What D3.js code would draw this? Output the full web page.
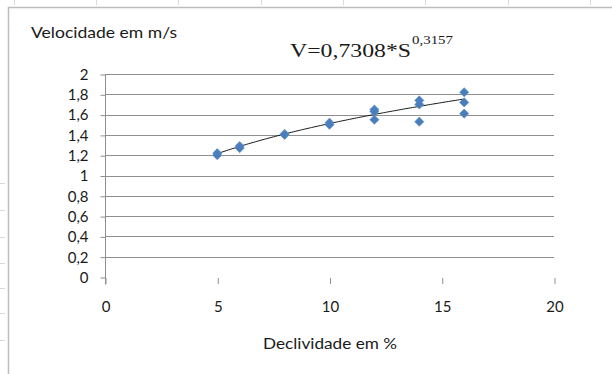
<!DOCTYPE html>
<html>
<head>
<meta charset="utf-8">
<script src="https://cdn.jsdelivr.net/npm/d3@7"></script>
<style>
  html, body { margin: 0; padding: 0; background: #fff; }
  svg { display: block; }
  text { font-family: Lato, "Noto Sans", sans-serif; fill: #1a1a1a; }
</style>
</head>
<body>
<svg id="chart" width="612" height="374"></svg>
<script>
// Measured slope (%) and velocity (m/s)
const declividade = [5, 5, 6, 6, 8, 8, 10, 10, 12, 12, 12, 14, 14, 14, 16, 16, 16];
const velocidade  = [1.22, 1.20, 1.29, 1.27, 1.41, 1.40, 1.52, 1.50, 1.65, 1.63, 1.55, 1.74, 1.70, 1.53, 1.82, 1.72, 1.61];

// Power trend line V = a * S^b
const trendCoef = [0.7308, 0.3157];
const trendRange = [5, 16];

const xTicks = [0, 5, 10, 15, 20];
const yTicks = [0, 0.2, 0.4, 0.6, 0.8, 1, 1.2, 1.4, 1.6, 1.8, 2];

const fmt = v => String(+v.toFixed(1)).replace(".", ",");
const FONT = "Lato, 'Noto Sans', sans-serif";

const svg = d3.select("#chart");

// faint worksheet cell grid behind the chart frame
const sheet = svg.append("g").attr("stroke", "#d9d9d9").attr("stroke-width", 1);
[14, 96, 178, 261, 343, 425, 508, 590].forEach(x =>
  sheet.append("line").attr("x1", x + 0.5).attr("x2", x + 0.5).attr("y1", 0).attr("y2", 5));
[183, 210, 237, 263, 288, 313, 340].forEach(y =>
  sheet.append("line").attr("x1", 0).attr("x2", 5).attr("y1", y + 0.5).attr("y2", y + 0.5));

// chart frame
svg.append("path")
  .attr("d", "M8.5,374 V7.5 H612")
  .attr("fill", "none").attr("stroke", "#bdbdbd").attr("stroke-width", 1.5);

const x = d3.scaleLinear().domain([0, 20]).range([105, 554]);
const y = d3.scaleLinear().domain([0, 2]).range([277, 74]);

// horizontal gridlines
svg.append("g")
  .selectAll("line")
  .data(yTicks.filter(d => d > 0))
  .join("line")
  .attr("x1", x(0)).attr("x2", x(20))
  .attr("y1", d => Math.round(y(d)) + 0.5).attr("y2", d => Math.round(y(d)) + 0.5)
  .attr("stroke", "#8f8f8f").attr("stroke-width", 1);

// vertical axis
const yAxis = svg.append("g")
  .attr("transform", `translate(${x(0) + 0.5},0.5)`)
  .call(d3.axisLeft(y).tickValues(yTicks).tickFormat(fmt).tickSize(5).tickPadding(12));
yAxis.select(".domain").remove();
yAxis.append("line").attr("x1", 0).attr("x2", 0).attr("y1", y(2)).attr("y2", 284);
yAxis.selectAll("line").attr("stroke", "#8f8f8f");
yAxis.selectAll("text").attr("font-size", 15).attr("fill", "#1a1a1a")
  .style("font-family", FONT);

// horizontal axis (ticks only)
const xAxis = svg.append("g")
  .attr("transform", `translate(0.5,278)`)
  .call(d3.axisBottom(x).tickValues(xTicks).tickFormat(d3.format("d")).tickSize(6).tickPadding(17));
xAxis.select(".domain").remove();
xAxis.selectAll("line").attr("stroke", "#8f8f8f");
xAxis.selectAll("text").attr("font-size", 15).attr("fill", "#1a1a1a")
  .style("font-family", FONT);

// power trend line
const trendPts = d3.range(trendRange[0], trendRange[1] + 0.001, 0.1)
  .map(s => [s, trendCoef[0] * Math.pow(s, trendCoef[1])]);
svg.append("path")
  .datum(trendPts)
  .attr("d", d3.line().x(d => x(d[0])).y(d => y(d[1])))
  .attr("fill", "none").attr("stroke", "#1a1a1a").attr("stroke-width", 1);

// diamond markers
const r = 4.6;
svg.append("g")
  .selectAll("path")
  .data(declividade.map((s, i) => [s, velocidade[i]]))
  .join("path")
  .attr("d", d => {
    const cx = x(d[0]), cy = y(d[1]);
    return `M${cx},${cy - r}L${cx + r},${cy}L${cx},${cy + r}L${cx - r},${cy}Z`;
  })
  .attr("fill", "#4a7ebb")
  .attr("stroke", "#5a8cc8").attr("stroke-width", 0.6);

// titles
svg.append("text").attr("x", 31).attr("y", 38)
  .attr("font-size", 16).attr("textLength", 146).attr("lengthAdjust", "spacingAndGlyphs")
  .text("Velocidade em m/s");
svg.append("text").attr("x", 263).attr("y", 349)
  .attr("font-size", 15.5).attr("textLength", 134).attr("lengthAdjust", "spacingAndGlyphs")
  .text("Declividade em %");

// trend equation
const eqFont = "'Liberation Serif', 'DejaVu Serif', serif";
svg.append("text").attr("x", 290).attr("y", 57)
  .style("font-family", eqFont).attr("font-size", 19)
  .attr("textLength", 121).attr("lengthAdjust", "spacingAndGlyphs")
  .text(`V=${String(trendCoef[0]).replace(".", ",")}*S`);
svg.append("text").attr("x", 412).attr("y", 44)
  .style("font-family", eqFont).attr("font-size", 12.5)
  .attr("textLength", 41).attr("lengthAdjust", "spacingAndGlyphs")
  .text(String(trendCoef[1]).replace(".", ","));
</script>
</body>
</html>
